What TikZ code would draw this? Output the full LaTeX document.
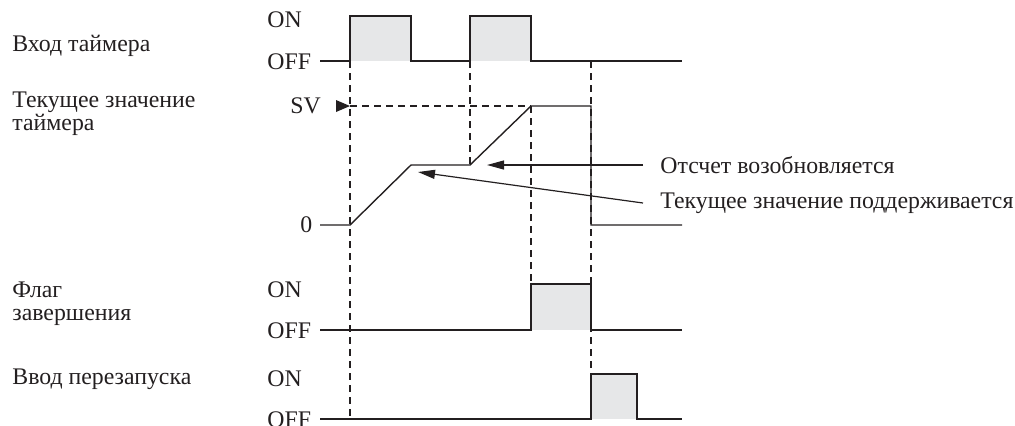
\documentclass[tikz,border=0pt]{standalone}
\usepackage{fontspec}
\setmainfont{Liberation Serif}
\usepackage{tikz}
\usetikzlibrary{arrows.meta}
\definecolor{inkx}{HTML}{231F20}
\definecolor{pulsebg}{HTML}{E6E7E8}
\tikzset{
  ar/.style={-{Triangle[length=8.5pt,width=4.5pt]},line width=0.6pt,inkx},
  sig/.style={line width=0.7pt,inkx,line join=miter},
  guide/.style={dash pattern=on 3.5pt off 2.5pt,line width=0.6pt,inkx},
  lbl/.style={font=\fontsize{11.9}{11.5}\selectfont,inner sep=0pt,text=inkx,anchor=west,align=left},
  pulse/.style={fill=pulsebg}
}

\begin{document}
\begin{tikzpicture}[x=0.5pt,y=-0.5pt]
\useasboundingbox (0,0) rectangle (1015,425);
% grey pulses
\fill[pulse] (350,16) rectangle (411,61);
\fill[pulse] (470,16) rectangle (531,61);
\fill[pulse] (531,284) rectangle (591,330);
\fill[pulse] (591,374) rectangle (637,419);
% dashed guides
\draw[guide] (350,61) -- (350,419);
\draw[guide] (470,61) -- (470,165);
\draw[guide] (531,106) -- (531,284);
\draw[guide] (591,61) -- (591,374);
\draw[guide] (350,106) -- (531,106);
\fill[inkx] (336,100) -- (350,106) -- (336,112) -- cycle;
% signals
\draw[sig] (320,61) -- (350,61) -- (350,16) -- (411,16) -- (411,61) -- (470,61)
  -- (470,16) -- (531,16) -- (531,61) -- (682,61);
\draw[sig] (320,225) -- (350,225) -- (411,165) -- (470,165) -- (531,106)
  -- (591,106) -- (591,225) -- (682,225);
\draw[sig] (320,330) -- (531,330) -- (531,284) -- (591,284) -- (591,330) -- (682,330);
\draw[sig] (320,419) -- (591,419) -- (591,374) -- (637,374) -- (637,419) -- (682,419);
% row names
\node[lbl] (tin) at (12,46) {Вход таймера};
\node[lbl] (pv) at (12,114) {Текущее значение\\таймера};
\node[lbl] (flag) at (12,304) {Флаг\\завершения};
\node[lbl] (rst) at (12,379) {Ввод перезапуска};
% levels
\node[lbl] (tinon) at (267,20) {ON};
\node[lbl] (tinoff) at (267,62) {OFF};
\node[lbl] (sv) at (290,106) {SV};
\node[lbl] (zero) at (300,225) {0};
\node[lbl] (flagon) at (267,290) {ON};
\node[lbl] (flagoff) at (267,331) {OFF};
\node[lbl] (rston) at (267,379) {ON};
\node[lbl] (rstoff) at (267,420) {OFF};
% callouts
\coordinate (resume) at (487,165);
\coordinate (hold) at (418,172);
\node[lbl,inner xsep=8.5pt] (lblresume) at (643,165) {Отсчет возобновляется};
\node[lbl,inner xsep=8.5pt] (lblhold) at (643,203) {Текущее значение поддерживается};
\draw[ar] (lblresume.west) -- (resume);
\draw[ar] (lblhold.west) -- (hold);
\end{tikzpicture}
\end{document}
